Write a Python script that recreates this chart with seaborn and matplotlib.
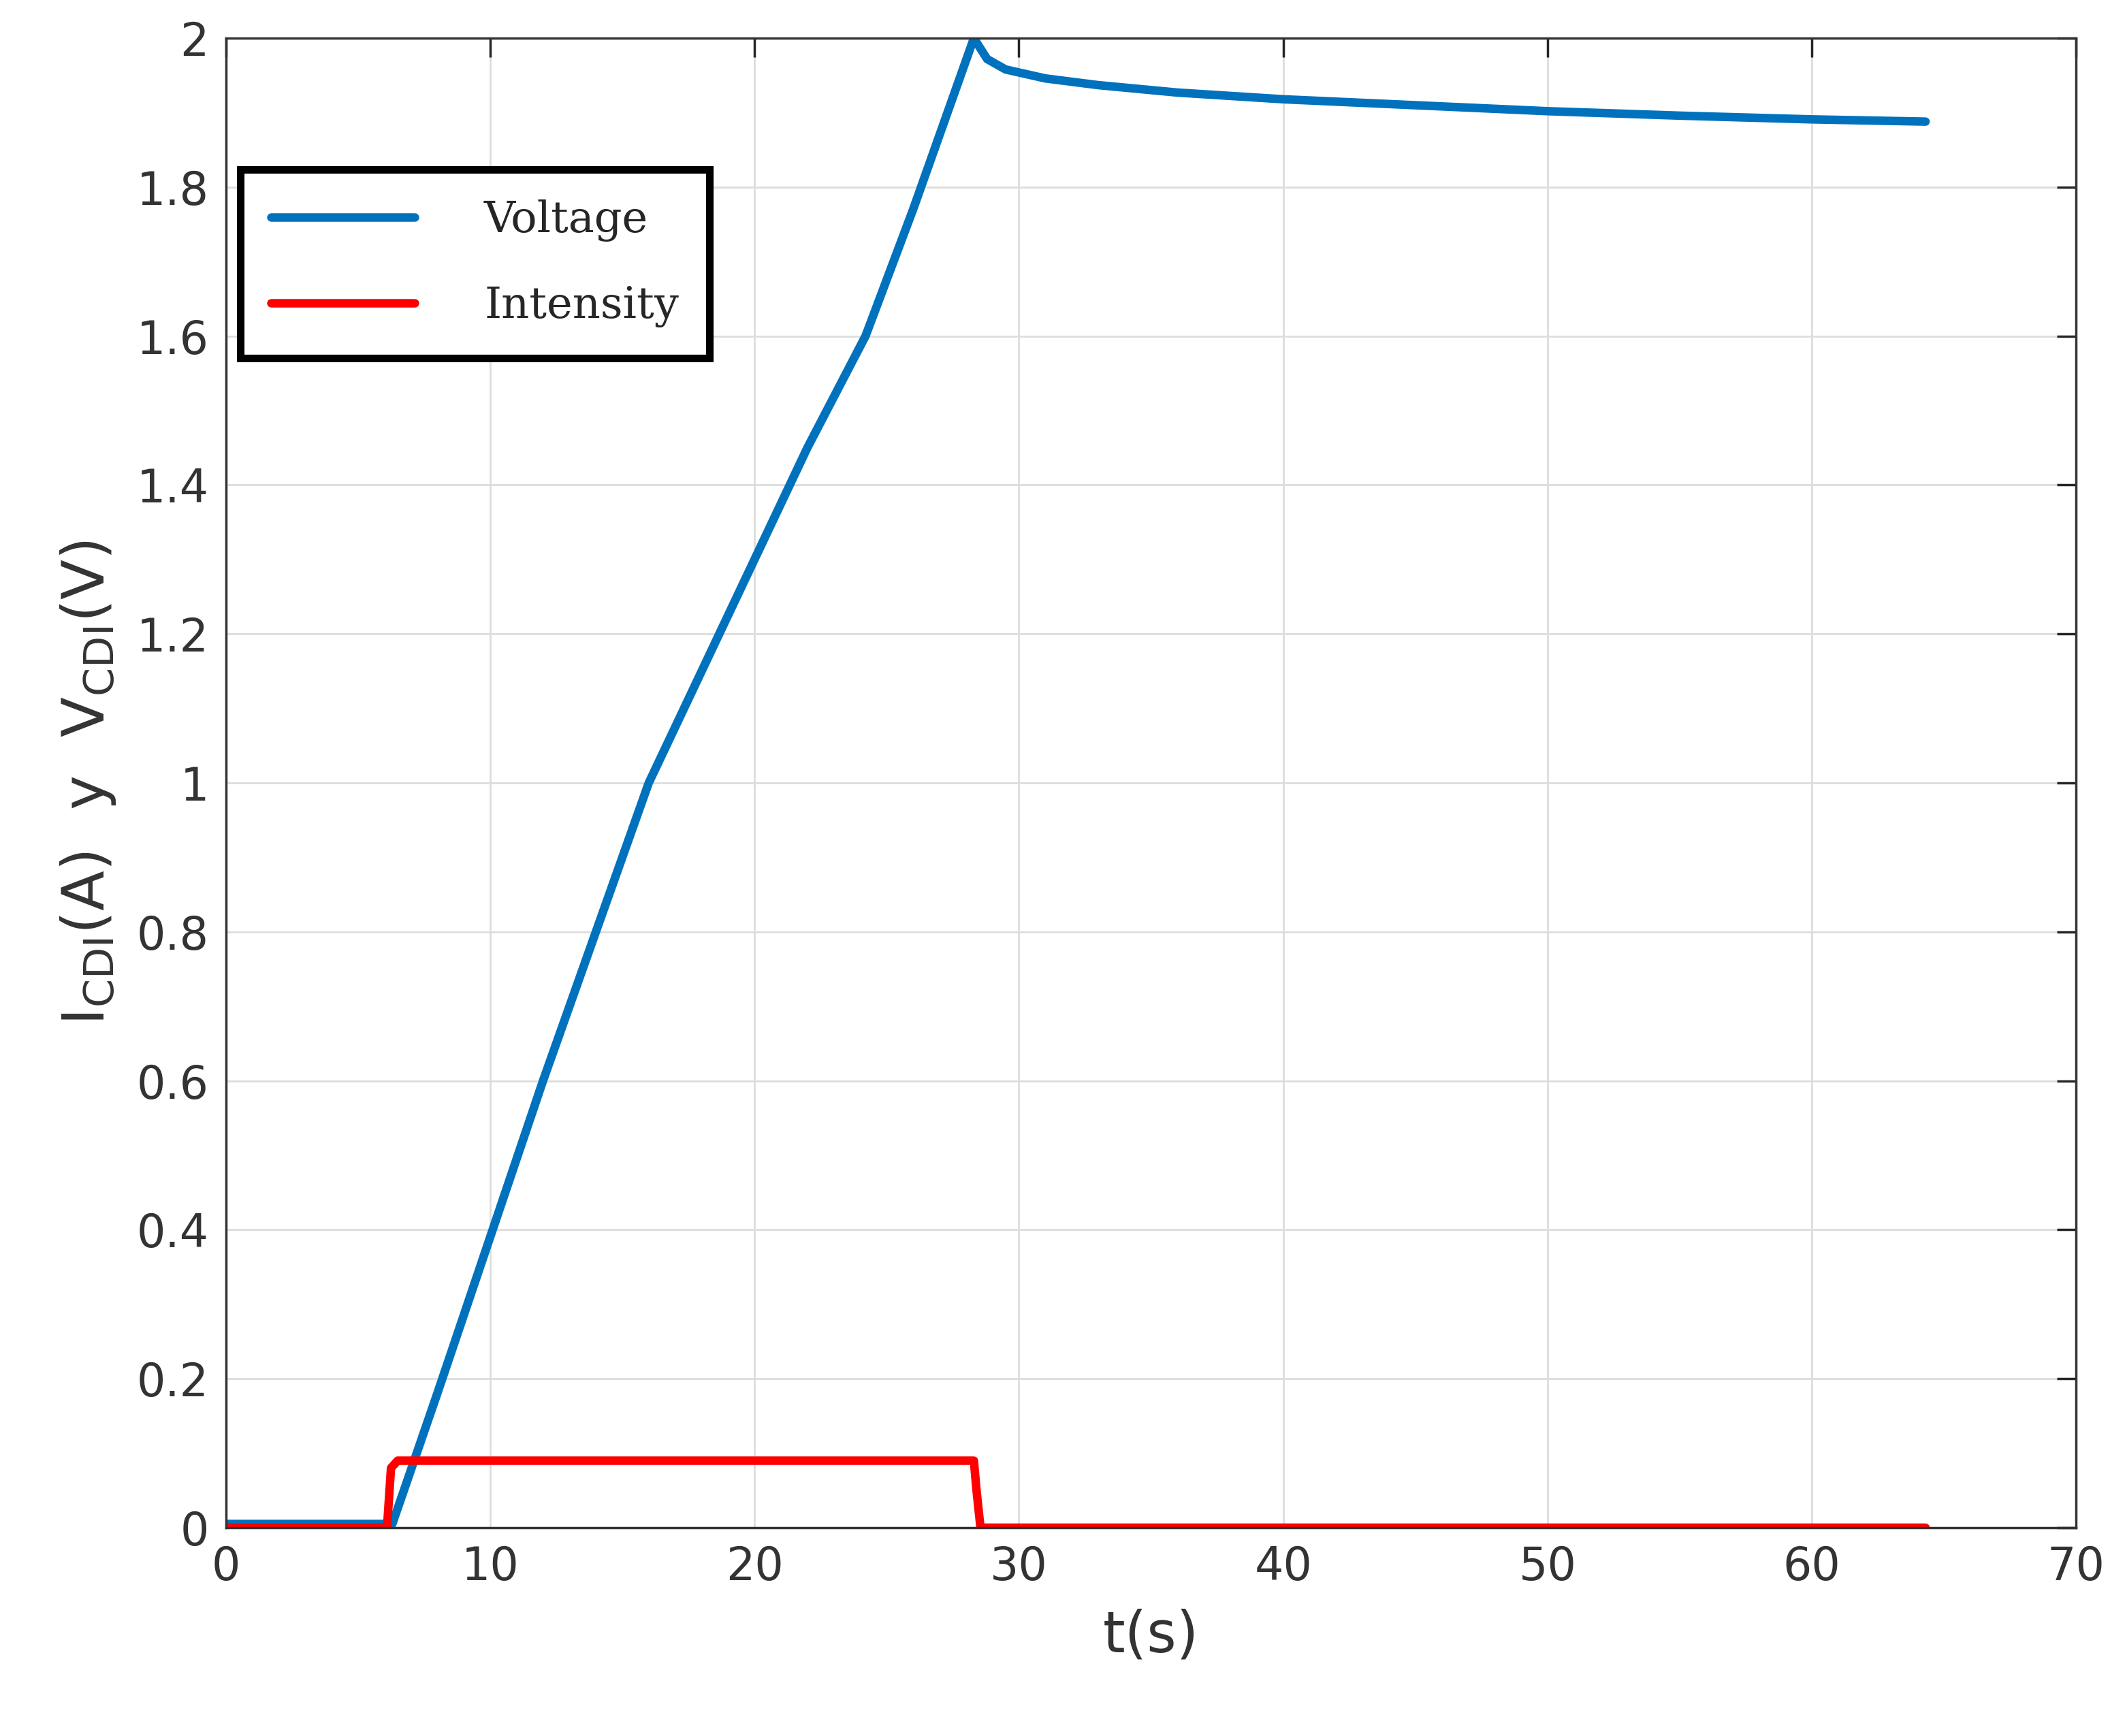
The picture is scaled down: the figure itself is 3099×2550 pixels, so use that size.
import matplotlib
matplotlib.use("Agg")
import matplotlib.pyplot as plt
import seaborn as sns
import pandas as pd

# Voltage trace
volt_t = [0, 6.3, 8, 10, 12, 14, 16, 18, 20, 22, 24.2, 26, 28.3, 28.8, 29.5, 31, 33, 36, 40, 45, 50, 55, 60, 64.3]
volt_v = [0.005, 0.005, 0.18, 0.39, 0.6, 0.8, 1.0, 1.15, 1.3, 1.45, 1.6, 1.77, 2.0,
          1.972, 1.958, 1.946, 1.937, 1.927, 1.918, 1.910, 1.902, 1.896, 1.891, 1.888]

# Intensity trace
int_t = [0, 6.1, 6.25, 6.5, 28.3, 28.4, 28.55, 64.3]
int_i = [0.0, 0.0, 0.08, 0.09, 0.09, 0.05, 0.0, 0.0]

x_ticks = [0, 10, 20, 30, 40, 50, 60, 70]
y_ticks = [0, 0.2, 0.4, 0.6, 0.8, 1, 1.2, 1.4, 1.6, 1.8, 2]

sns.set_style("white")
plt.rcParams['font.family'] = ['DejaVu Sans']

fig = plt.figure(figsize=(30.99, 25.5), dpi=100)
ax = fig.add_axes([0.107, 0.12, 0.877, 0.858])

dv = pd.DataFrame({"t": volt_t, "v": volt_v})
di = pd.DataFrame({"t": int_t, "v": int_i})
sns.lineplot(data=dv, x="t", y="v", ax=ax, color="#0072BD", linewidth=9, label="Voltage")
sns.lineplot(data=di, x="t", y="v", ax=ax, color="#FF0000", linewidth=9, label="Intensity")

ax.set_xlim(0, 70)
ax.set_ylim(0, 2)
ax.set_xticks(x_ticks)
ax.set_yticks(y_ticks)
ax.set_xticklabels([str(v) for v in x_ticks])
ax.set_yticklabels(["0", "0.2", "0.4", "0.6", "0.8", "1", "1.2", "1.4", "1.6", "1.8", "2"])
ax.grid(True, color="#dddddd", linewidth=2)
ax.tick_params(axis="both", direction="in", length=20, width=2.5, labelsize=48,
               labelcolor="#333333", top=True, right=True, pad=18)
for s in ax.spines.values():
    s.set_color("#333333")
    s.set_linewidth(2.5)

ax.set_xlabel("t(s)", fontsize=60, color="#333333", labelpad=20)
ax.set_ylabel(r"$\mathregular{I_{CDI}(A)\ \ y\ \ V_{CDI}(V)}$", fontsize=62, color="#333333", labelpad=20)

leg = ax.legend(loc="upper left", bbox_to_anchor=(0.008, 0.912), prop={"family": "DejaVu Serif", "size": 46},
                frameon=True, fancybox=False, handlelength=3.3, borderpad=0.7, labelspacing=1.0,
                handletextpad=1.6, borderaxespad=0)
leg.get_frame().set_edgecolor("black")
leg.get_frame().set_linewidth(8)
leg.get_frame().set_alpha(1)

fig.savefig("out.png", dpi=100, facecolor="white")
